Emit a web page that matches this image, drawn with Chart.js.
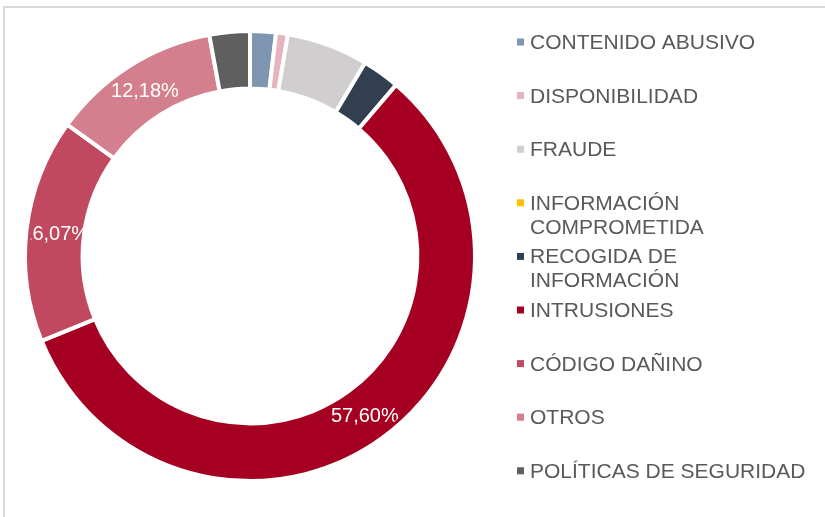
<!DOCTYPE html>
<html>
<head>
<meta charset="utf-8">
<script src="https://cdn.jsdelivr.net/npm/chart.js@4.4.0/dist/chart.umd.min.js"></script>
<style>
    html, body { margin: 0; padding: 0; background: #fff; }
    #wrap { width: 825px; height: 517px; position: relative; }
</style>
</head>
<body>
<div id="wrap"><canvas id="incidents-chart"></canvas></div>
<script>
"use strict";

// Chart data
const categories = ['CONTENIDO ABUSIVO', 'DISPONIBILIDAD', 'FRAUDE', ['INFORMACIÓN', 'COMPROMETIDA'], ['RECOGIDA DE', 'INFORMACIÓN'], 'INTRUSIONES', 'CÓDIGO DAÑINO', 'OTROS', 'POLÍTICAS DE SEGURIDAD'];
const percentages = [1.85, 0.85, 5.85, 0, 2.70, 57.60, 16.07, 12.18, 2.90];
const sliceColors = ['#7f96b2', '#e6b4be', '#d0cece', '#ffc000', '#323f50', '#a50021', '#c0485f', '#d47f8d', '#5f5f5f'];
const labelledFrom = 10; // only slices above this get a value label

var InitIncidents = function () {
    var textFont = '"Liberation Sans", Arial, sans-serif';
    var legendColor = '#595959';

    // light grey frame round the chart, as in the source sheet
    var frame = {
        id: 'frame',
        beforeDraw: function (chart) {
            var ctx = chart.ctx;
            ctx.save();
            ctx.strokeStyle = '#d9d9d9';
            ctx.lineWidth = 2;
            ctx.strokeRect(4, 7, 1000, 1000);
            ctx.restore();
        }
    };

    // percentage labels inside the ring, clipped just inside its outer edge
    var sliceLabels = {
        id: 'sliceLabels',
        afterDatasetsDraw: function (chart) {
            var ctx = chart.ctx;
            var meta = chart.getDatasetMeta(0);
            var first = meta.data[0];
            var bw = chart.data.datasets[0].borderWidth;
            ctx.save();
            ctx.beginPath();
            ctx.arc(first.x, first.y, first.outerRadius - bw / 2 - 3, 0, Math.PI * 2);
            ctx.clip();
            ctx.font = '20px ' + textFont;
            ctx.fillStyle = '#ffffff';
            ctx.textAlign = 'center';
            ctx.textBaseline = 'alphabetic';
            meta.data.forEach(function (arc, i) {
                var value = percentages[i];
                if (value < labelledFrom) {
                    return;
                }
                var pos = arc.tooltipPosition();
                ctx.fillText(value.toFixed(2).replace('.', ',') + '%', pos.x, pos.y + 7.2);
            });
            ctx.restore();
        }
    };

    // legend on the right, with wrapped two line entries
    var sideLegend = {
        id: 'sideLegend',
        afterDraw: function (chart) {
            var ctx = chart.ctx;
            var labels = chart.data.labels;
            var colors = chart.data.datasets[0].backgroundColor;
            ctx.save();
            ctx.font = '21px ' + textFont;
            ctx.textBaseline = 'alphabetic';
            labels.forEach(function (label, i) {
                var lines = Array.isArray(label) ? label : [label];
                var y = 41.5 + i * 53.6;
                ctx.fillStyle = colors[i];
                ctx.fillRect(517, y - 3, 7, 7);
                ctx.fillStyle = legendColor;
                lines.forEach(function (line, j) {
                    ctx.fillText(line, 530, y + 7.5 + j * 24);
                });
            });
            ctx.restore();
        }
    };

    var drawChart = function () {
        var chartElement = document.querySelector('#incidents-chart');
        if (!chartElement) {
            return;
        }

        var config = {
            type: 'doughnut',
            data: {
                labels: categories,
                datasets: [{
                    data: percentages,
                    backgroundColor: sliceColors,
                    borderColor: '#ffffff',
                    borderWidth: 4,
                    hoverOffset: 0
                }]
            },
            options: {
                responsive: true,
                maintainAspectRatio: false,
                animation: false,
                cutout: '74.4%',
                layout: {
                    padding: { left: 23, top: 29, right: 348, bottom: 34 }
                },
                plugins: {
                    legend: { display: false },
                    tooltip: { enabled: false }
                }
            },
            plugins: [frame, sliceLabels, sideLegend]
        };

        new Chart(chartElement.getContext('2d'), config);
    };

    return {
        init: function () {
            drawChart();
        }
    };
}();

document.addEventListener('DOMContentLoaded', function () {
    InitIncidents.init();
});
</script>
</body>
</html>
